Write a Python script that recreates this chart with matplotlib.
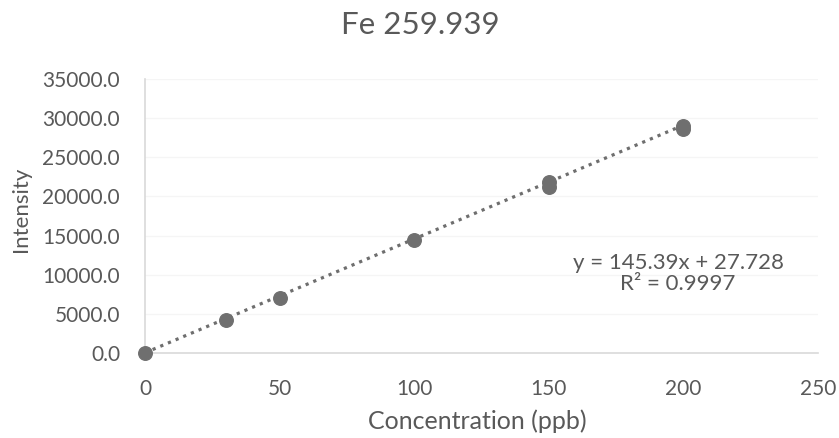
import matplotlib
matplotlib.use("Agg")
import matplotlib.pyplot as plt
import numpy as np

conc = [0, 30, 50, 100, 150, 150, 200, 200]
intensity = [0, 4250, 7050, 14450, 21200, 21850, 28550, 29050]
slope = 145.39
intercept = 27.728
r2 = 0.9997
title = "Fe 259.939"
xticks = [0, 50, 100, 150, 200, 250]
yticks = [0, 5000, 10000, 15000, 20000, 25000, 30000, 35000]

plt.rcParams['font.family'] = ['Lato', 'DejaVu Sans']
txt = '#595959'

W, H = 839, 438
fig = plt.figure(figsize=(W/100, H/100), dpi=100)
ax = fig.add_axes([145/W, (H-353)/H, (818-145)/W, (353-79)/H])

ax.set_xlim(0, 250)
ax.set_ylim(0, 35000)
ax.set_xticks(xticks)
ax.set_yticks(yticks)
ax.set_yticklabels([f"{v:.1f}" for v in yticks])
ax.tick_params(axis='y', length=0, labelsize=15, colors=txt, pad=18)
ax.tick_params(axis='x', length=0, labelsize=15, colors=txt, pad=19)
ax.grid(axis='y', color='#f5f5f5', linewidth=1)
ax.set_axisbelow(True)
for s in ['top', 'right']:
    ax.spines[s].set_visible(False)
for s in ['left', 'bottom']:
    ax.spines[s].set_color('#d9d9d9')
    ax.spines[s].set_linewidth(1.2)

xl = np.array([0, 200])
ax.plot(xl, slope * xl + intercept, linestyle=(0, (1, 1.6)), color='#6e6e6e', linewidth=2.3, zorder=2)
ax.scatter(conc, intensity, s=95, color='#6f6f6f', zorder=3, clip_on=False)

ax.text(198, 10200, f"y = {slope}x + {intercept}\nR² = {r2}", ha='center', va='center',
        fontsize=16, color=txt, linespacing=1.05)

fig.text(477/W, 1 - 421/H, "Concentration (ppb)", ha='center', va='center', fontsize=18, color=txt)
fig.text(21/W, 1 - 209/H, "Intensity", ha='center', va='center', rotation=90, fontsize=16, color=txt)
fig.text(420/W, 1 - 25/H, title, ha='center', va='center', fontsize=22.5, color=txt)

fig.savefig("out.png", dpi=100)
